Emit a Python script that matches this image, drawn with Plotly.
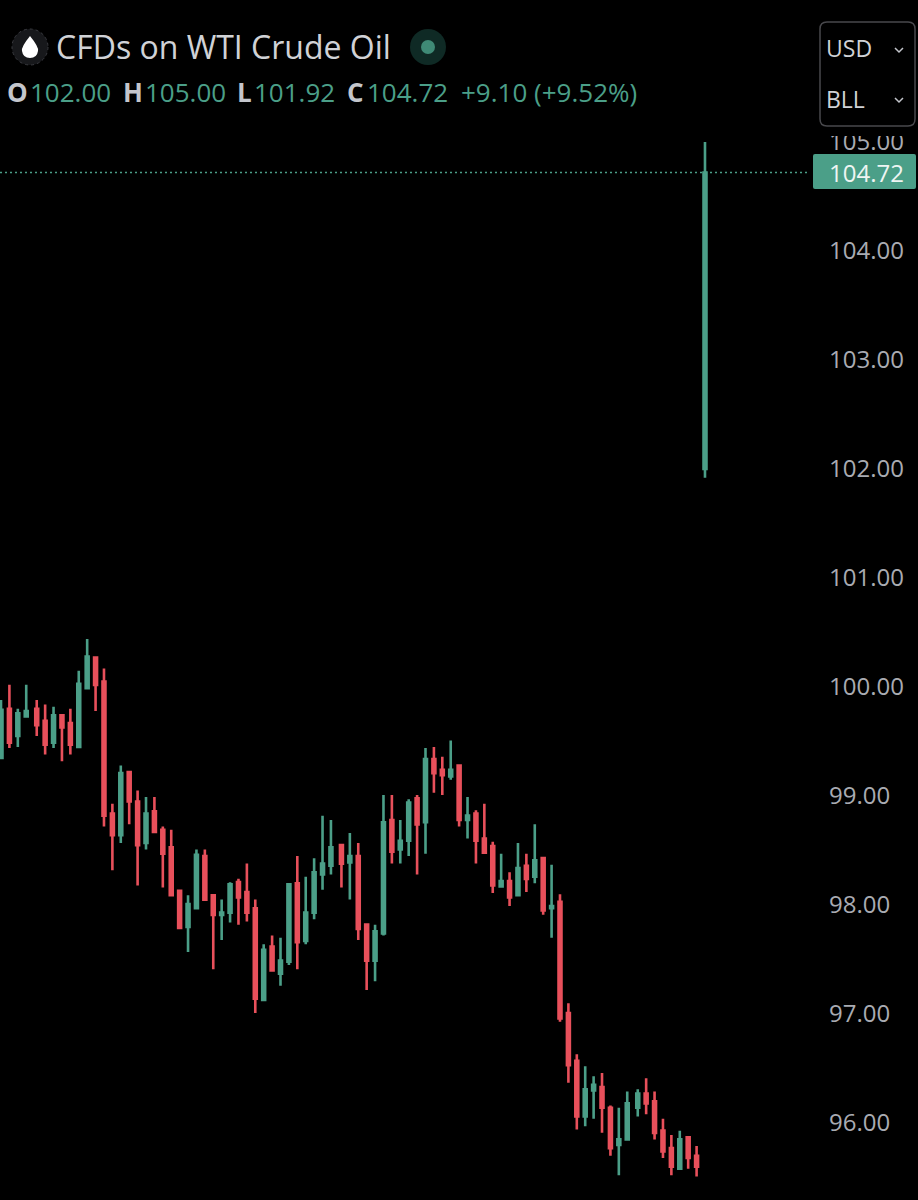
import numpy as np
import plotly.graph_objects as go

# 30 min style candles
opens = [99.35, 99.80, 99.55, 99.73, 99.80, 99.69, 99.49, 99.74, 99.67, 99.45,
         99.99, 100.27, 100.05, 98.84, 98.64, 99.22, 98.95, 98.57, 98.86, 98.69,
         98.53, 98.13, 97.80, 97.97, 98.45, 98.09, 97.91, 97.93, 98.21, 98.12,
         97.97, 97.13, 97.62, 97.37, 97.48, 98.20, 97.67, 97.93, 98.28, 98.36,
         98.55, 98.39, 98.45, 97.82, 97.49, 97.74, 98.78, 98.51, 98.59, 98.98,
         98.76, 99.34, 99.24, 99.18, 99.28, 98.78, 98.84, 98.61, 98.54, 98.17,
         98.22, 98.09, 98.36, 98.26, 98.43, 97.97, 98.03, 97.01, 96.57, 96.06,
         96.30, 96.33, 96.14, 95.80, 95.85, 96.14, 96.27, 96.20, 95.93, 95.77,
         95.58, 95.87, 95.70, 102.00]
highs = [99.88, 100.02, 99.80, 100.02, 99.88, 99.84, 99.82, 99.74, 99.80, 100.15,
         100.44, 100.28, 100.17, 98.93, 99.28, 99.22, 99.05, 98.99, 98.99, 98.72,
         98.69, 98.13, 98.09, 98.51, 98.51, 98.10, 98.05, 98.21, 98.24, 98.38,
         98.05, 97.64, 97.72, 97.70, 98.20, 98.45, 98.26, 98.43, 98.82, 98.78,
         98.55, 98.66, 98.57, 97.82, 97.82, 99.01, 99.01, 98.78, 98.97, 99.01,
         99.44, 99.45, 99.36, 99.51, 99.28, 98.99, 98.87, 98.93, 98.58, 98.47,
         98.30, 98.57, 98.47, 98.74, 98.43, 98.37, 98.10, 97.10, 96.63, 96.52,
         96.43, 96.46, 96.16, 96.14, 96.29, 96.31, 96.41, 96.29, 96.04, 95.89,
         95.93, 95.88, 95.79, 105.00]
lows = [99.35, 99.44, 99.45, 99.73, 99.55, 99.38, 99.44, 99.32, 99.38, 99.45,
        99.99, 99.78, 98.72, 98.32, 98.57, 98.74, 98.18, 98.51, 98.67, 98.16,
        98.09, 97.79, 97.57, 97.97, 98.05, 97.41, 97.68, 97.84, 97.82, 97.85,
        97.01, 97.13, 97.40, 97.26, 97.45, 97.41, 97.64, 97.87, 98.14, 98.28,
        98.16, 98.05, 97.68, 97.22, 97.30, 97.72, 98.38, 98.38, 98.45, 98.28,
        98.47, 99.03, 99.01, 99.15, 98.72, 98.61, 98.38, 98.48, 98.11, 98.16,
        97.99, 98.09, 98.12, 98.20, 97.91, 97.70, 96.93, 96.37, 95.94, 95.97,
        96.04, 95.91, 95.70, 95.52, 95.85, 96.06, 96.08, 95.85, 95.68, 95.52,
        95.58, 95.58, 95.51, 101.92]
closes = [99.79, 99.49, 99.76, 99.78, 99.65, 99.47, 99.74, 99.63, 99.47, 100.03,
          100.28, 100.02, 98.82, 98.64, 99.21, 98.95, 98.55, 98.84, 98.67, 98.47,
          98.09, 97.79, 98.01, 98.46, 98.05, 97.91, 97.93, 98.19, 98.07, 97.93,
          97.14, 97.59, 97.40, 97.49, 98.19, 97.66, 97.93, 98.30, 98.38, 98.53,
          98.38, 98.45, 97.78, 97.49, 97.76, 98.76, 98.49, 98.59, 98.94, 98.74,
          99.34, 99.21, 99.19, 99.24, 98.78, 98.82, 98.59, 98.48, 98.18, 98.22,
          98.07, 98.34, 98.24, 98.41, 97.95, 97.99, 96.96, 96.53, 96.06, 96.31,
          96.35, 96.14, 95.77, 95.85, 96.18, 96.27, 96.18, 95.91, 95.74, 95.60,
          95.85, 95.68, 95.60, 104.72]
price_ticks = [96, 97, 98, 99, 100, 101, 102, 103, 104, 105]
last_price = 104.72

UP = "#4b9f88"
DOWN = "#e8505b"
GREY = "#c4c6cc"
FONT = "Open Sans"

W, H = 918, 1200
PLOT_R, PLOT_T = 812, 130

# small breaks in the time scale after bars 3, 39 and 74
bars = np.arange(len(opens), dtype=float)
bars += 0.25 * (bars > 3) + 0.25 * (bars > 39) + 0.25 * (bars > 74)


def px(x):
    return x / PLOT_R


def py(y):
    return 1 - (y - PLOT_T) / (H - PLOT_T)


def label(x, y, text, size=26, color=GREY, anchor="left"):
    return dict(x=px(x), y=py(y), xref="paper", yref="paper", text=text, showarrow=False,
                xanchor=anchor, yanchor="middle", font=dict(family=FONT, size=size, color=color))


def circle(cx, cy, r, fill, line=None, dash=None):
    return dict(type="circle", xref="paper", yref="paper", layer="above",
                x0=px(cx - r), x1=px(cx + r), y0=py(cy + r), y1=py(cy - r), fillcolor=fill,
                line=dict(color=line or fill, width=1 if line else 0, dash=dash))


def path(points, fill=None, color=None, width=0):
    return dict(type="path", xref="paper", yref="paper", layer="above", path=points,
                fillcolor=fill, line=dict(color=color, width=width))


def round_box(x0, y0, x1, y1, r):
    return (f"M {px(x0 + r)} {py(y0)} L {px(x1 - r)} {py(y0)} Q {px(x1)} {py(y0)} {px(x1)} {py(y0 + r)} "
            f"L {px(x1)} {py(y1 - r)} Q {px(x1)} {py(y1)} {px(x1 - r)} {py(y1)} "
            f"L {px(x0 + r)} {py(y1)} Q {px(x0)} {py(y1)} {px(x0)} {py(y1 - r)} "
            f"L {px(x0)} {py(y0 + r)} Q {px(x0)} {py(y0)} {px(x0 + r)} {py(y0)} Z")


def chevron(cx, cy):
    return f"M {px(cx - 4)} {py(cy - 2)} L {px(cx)} {py(cy + 2)} L {px(cx + 4)} {py(cy - 2)}"


drop = (f"M {px(30)} {py(36)} Q {px(39)} {py(47)} {px(38)} {py(51)} Q {px(37)} {py(58)} {px(30)} {py(58)} "
        f"Q {px(23)} {py(58)} {px(22)} {py(51)} Q {px(21)} {py(47)} {px(30)} {py(36)} Z")

fig = go.Figure(go.Candlestick(
    x=bars, open=opens, high=highs, low=lows, close=closes,
    increasing=dict(line=dict(color=UP, width=2.6), fillcolor=UP),
    decreasing=dict(line=dict(color=DOWN, width=2.6), fillcolor=DOWN),
    whiskerwidth=0,
))

shapes = [
    # last price line
    dict(type="line", xref="paper", yref="y", x0=0, x1=px(808), y0=last_price, y1=last_price,
         line=dict(color=UP, width=1.5, dash="2px,3px")),
    # last price tag
    path(round_box(813, 154, 916, 189, 2), fill=UP),
    # unit selector covers the top of the scale
    dict(type="rect", xref="paper", yref="paper", layer="above", x0=px(815), x1=px(918),
         y0=py(136), y1=py(0), fillcolor="#000000", line=dict(width=0)),
    path(round_box(820, 22, 915, 126, 7), fill="#000000", color="#48484c", width=1.5),
    path(chevron(899, 50), color=GREY, width=1.5),
    path(chevron(899, 100), color=GREY, width=1.5),
    # header icons
    circle(30, 47, 18, "#17181b", "#3a3b40", "dot"),
    path(drop, fill="#ffffff"),
    circle(428, 47, 18, "#0f2a25"),
    circle(428, 47, 7, "#3f8a76"),
]

annotations = [
    label(54, 47, "CFDs on WTI Crude Oil", size=32, color="#d0d2d6"),
    label(5, 92, "<b>O</b>"),
    label(28, 92, f"{opens[-1]:.2f}", color=UP),
    label(121, 92, "<b>H</b>"),
    label(143, 92, f"{highs[-1]:.2f}", color=UP),
    label(235, 92, "<b>L</b>"),
    label(252, 92, f"{lows[-1]:.2f}", color=UP),
    label(345, 92, "<b>C</b>"),
    label(365, 92, f"{closes[-1]:.2f}", color=UP),
    label(459, 92, "+9.10 (+9.52%)", color=UP),
    label(867, 172, f"{last_price:.2f}", size=24, color="#eef5f3", anchor="center"),
    label(824, 48, "USD", size=23, color="#d0d2d6"),
    label(824, 99, "BLL", size=23, color="#d0d2d6"),
]

fig.update_layout(
    width=W, height=H,
    margin=dict(l=0, r=W - PLOT_R, t=PLOT_T, b=0),
    paper_bgcolor="#000000", plot_bgcolor="#000000",
    showlegend=False, boxgap=0.65, boxgroupgap=0,
    font=dict(family=FONT),
    shapes=shapes, annotations=annotations,
    xaxis=dict(visible=False, rangeslider=dict(visible=False), range=[-0.12, 96.48]),
    yaxis=dict(side="right", range=[95.294, 105.11], showgrid=False, zeroline=False, showline=False,
               tickvals=price_ticks, ticktext=[f"{p:.2f}" for p in price_ticks],
               ticks="", ticklabelstandoff=16, tickfont=dict(family=FONT, size=24, color="#a9abb2")),
)

# the page has a default body margin, drop it so the chart fills the window
fig.write_html("out.html", config={"displayModeBar": False},
               post_script="document.body.style.margin='0';document.body.style.background='#000';")
